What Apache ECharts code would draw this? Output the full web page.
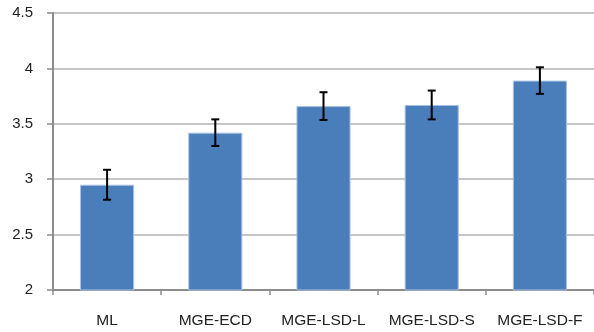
<!DOCTYPE html>
<html><head><meta charset="utf-8">
<script src="https://cdn.jsdelivr.net/npm/echarts@6/dist/echarts.min.js"></script>
<style>html,body{margin:0;padding:0;background:#fff}#c{width:594px;height:332px}</style>
</head><body><div id="c"></div>
<script>
const categories = ['ML', 'MGE-ECD', 'MGE-LSD-L', 'MGE-LSD-S', 'MGE-LSD-F'];
const means = [2.95, 3.42, 3.66, 3.67, 3.89];
const errors = [0.135, 0.12, 0.125, 0.13, 0.12];
const yTicks = [2, 2.5, 3, 3.5, 4, 4.5];

const errData = categories.map((c, i) => [i, means[i] - errors[i], means[i] + errors[i]]);
const chart = echarts.init(document.getElementById('c'));
chart.setOption({
  animation: false,
  grid: { left: 53, right: -2, top: 13, bottom: 42 },
  xAxis: {
    type: 'category', data: categories,
    axisLine: { lineStyle: { color: '#8c8c8c', width: 2 } },
    axisTick: { show: true, interval: 0, length: 5, lineStyle: { color: '#8c8c8c', width: 1.5 } },
    axisLabel: { interval: 0, hideOverlap: false, margin: 23, fontSize: 15.5, color: '#222', fontFamily: 'Liberation Sans' }
  },
  yAxis: {
    type: 'value', min: 2, max: 4.5, interval: 0.5,
    axisLine: { show: true, lineStyle: { color: '#8c8c8c', width: 2 } },
    axisTick: { show: true, length: 6, inside: false, lineStyle: { color: '#8c8c8c', width: 1.5 } },
    splitLine: { lineStyle: { color: '#b3b3b3', width: 1.5 } },
    axisLabel: { margin: 20, fontSize: 15, color: '#222', fontFamily: 'Liberation Sans',
      formatter: v => yTicks.includes(v) ? String(v) : '' }
  },
  series: [
    { type: 'bar', data: means, barWidth: '50%',
      itemStyle: { color: '#4a7ebb', borderColor: '#a9c1e3', borderWidth: 1 } },
    { type: 'custom', data: errData, z: 10,
      renderItem: function (params, api) {
        const x = api.value(0);
        const lo = api.coord([x, api.value(1)]);
        const hi = api.coord([x, api.value(2)]);
        const w = 4;
        const st = { stroke: '#000', lineWidth: 2 };
        return { type: 'group', children: [
          { type: 'line', shape: { x1: lo[0], y1: lo[1], x2: hi[0], y2: hi[1] }, style: st },
          { type: 'line', shape: { x1: lo[0] - w, y1: lo[1], x2: lo[0] + w, y2: lo[1] }, style: st },
          { type: 'line', shape: { x1: hi[0] - w, y1: hi[1], x2: hi[0] + w, y2: hi[1] }, style: st }
        ] };
      }
    }
  ]
});
</script></body></html>
